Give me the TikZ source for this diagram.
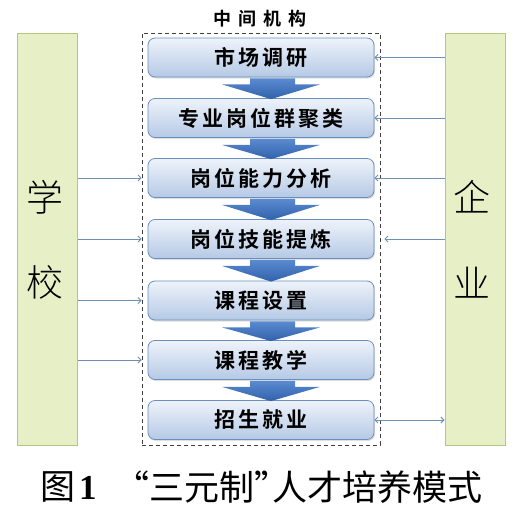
\documentclass[tikz,border=0pt]{standalone}
\usepackage{fontspec}
\usetikzlibrary{arrows.meta,calc,shadows}
\newfontfamily\cjk[BoldFont={Noto Sans CJK SC Bold}]{Noto Sans CJK SC}
\newfontfamily\cjklight{Noto Sans CJK SC Light}
\newfontfamily\digitfont{Liberation Serif}
\definecolor{sidefill}{HTML}{E7EFC6}
\definecolor{sideborder}{HTML}{B3C77A}
\definecolor{boxtop}{HTML}{EEF3FA}
\definecolor{boxbot}{HTML}{B5C9E5}
\definecolor{boxborder}{HTML}{6A8FBE}
\definecolor{linkcol}{HTML}{6F8FB5}
\definecolor{arrtop}{HTML}{5A8AD0}
\definecolor{arrbot}{HTML}{3062AB}
\newdimen\chgap
\def\sptext#1#2{\chgap=#1\relax\sptextaux#2\relax\unkern}
\def\sptextaux#1{\ifx#1\relax\else#1\kern\chgap\expandafter\sptextaux\fi}
\tikzset{
  side/.style={draw=sideborder, fill=sidefill, line width=1pt, minimum width=60pt, minimum height=412pt, inner sep=0pt},
  sidetext/.style={font=\cjklight\fontsize{37}{37}\selectfont, inner sep=0pt},
  container/.style={draw=black!75, dashed, dash pattern=on 4pt off 3pt, line width=0.9pt, minimum width=238pt, minimum height=412pt, inner sep=0pt},
  stepbox/.style={draw=boxborder, line width=0.8pt, rounded corners=7pt, top color=boxtop, bottom color=boxbot, minimum width=226pt, minimum height=39pt, inner sep=0pt, font=\cjk\bfseries\fontsize{21}{21}\selectfont, drop shadow={opacity=0.25, shadow xshift=1pt, shadow yshift=-1.5pt}},
  link/.style={draw=linkcol, line width=0.9pt, -{Straight Barb[length=3pt,width=6pt]}},
  twolink/.style={draw=linkcol, line width=0.9pt, {Straight Barb[length=3pt,width=6pt]}-{Straight Barb[length=3pt,width=6pt]}},
  blockarrow/.style={top color=arrtop, bottom color=arrbot},
  captext/.style={font=\cjk\fontsize{35}{35}\selectfont, anchor=west, inner sep=0pt},
}
\newcommand{\blockarr}[2]{%
  \shade[blockarrow] ($(#1.south)+(-11,1)$) -- ($(#1.south)+(34,1)$) -- ($(#1.south)+(34,7)$) -- ($(#1.south)+(59,7)$) -- ($(#2.north)+(10,1)$) -- ($(#1.south)+(-39,7)$) -- ($(#1.south)+(-11,7)$) -- cycle;}
\begin{document}
\begin{tikzpicture}[x=1pt,y=-1pt]
\useasboundingbox[fill=white] (0,0) rectangle (517,514);
% sides
\node[side] (school) at (47,239) {};
\node[side] (firm) at (475,239) {};
\node[sidetext] (s1) at (45,197) {学};
\node[sidetext] (s2) at (45,282) {校};
\node[sidetext] (f1) at (472,197) {企};
\node[sidetext] (f2) at (472,283) {业};
% container
\node[container] (mid) at (261,239) {};
\node[font=\cjk\bfseries\fontsize{18}{18}\selectfont, inner sep=0pt] (title) at (260,19) {\sptext{7pt}{中间机构}};
% steps
\node[stepbox] (b1) at (261,57.5) {\sptext{3pt}{市场调研}};
\node[stepbox] (b2) at (261,118) {\sptext{3pt}{专业岗位群聚类}};
\node[stepbox] (b3) at (261,178) {\sptext{3pt}{岗位能力分析}};
\node[stepbox] (b4) at (261,239) {\sptext{3pt}{岗位技能提炼}};
\node[stepbox] (b5) at (261,300.5) {\sptext{3pt}{课程设置}};
\node[stepbox] (b6) at (261,360) {\sptext{3pt}{课程教学}};
\node[stepbox] (b7) at (261,420) {\sptext{3pt}{招生就业}};
\blockarr{b1}{b2}
\blockarr{b2}{b3}
\blockarr{b3}{b4}
\blockarr{b4}{b5}
\blockarr{b5}{b6}
\blockarr{b6}{b7}
% school links
\draw[link] (school.east |- b3) -- (mid.west |- b3);
\draw[link] (school.east |- b4) -- (mid.west |- b4);
\draw[link] (school.east |- b5) -- (mid.west |- b5);
\draw[link] (school.east |- b6) -- (mid.west |- b6);
% firm links
\draw[link] (firm.west |- b1) -- (b1.east);
\draw[link] (firm.west |- b2) -- (b2.east);
\draw[link] (firm.west |- b3) -- (b3.east);
\draw[link] (firm.west |- b4) -- ($(mid.east |- b4)+(4,0)$);
\draw[twolink] (b7.east) -- (firm.west |- b7);
% caption
\node[captext] (cap1) at (40,487) {图\kern4pt{\digitfont\bfseries 1}};
\node[captext] (cap2) at (114,487) {“三元制”\kern-17pt 人才培养模式};
\end{tikzpicture}
\end{document}
